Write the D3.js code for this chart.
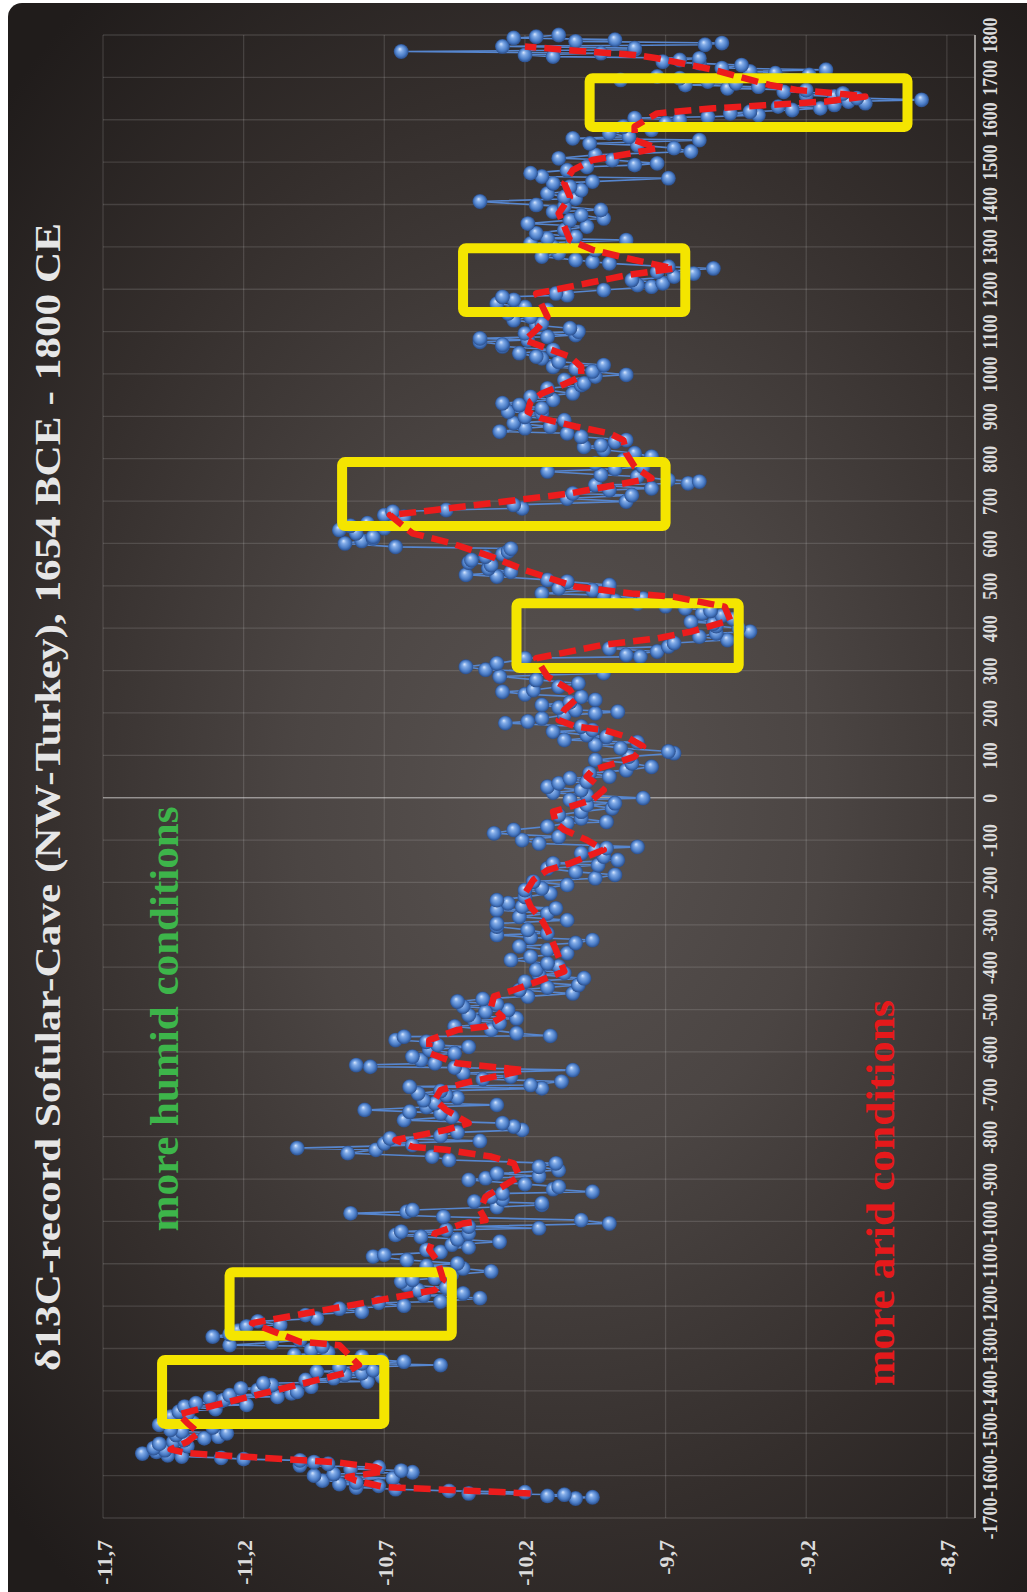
<!DOCTYPE html>
<html>
<head>
<meta charset="utf-8">
<script src="https://cdn.jsdelivr.net/npm/d3@7"></script>
<style>
  html, body { margin: 0; padding: 0; background: #ffffff; }
  svg { display: block; }
</style>
</head>
<body>
<svg id="chart" width="1027" height="1592"></svg>
<script>
// ---- Axis tick labels ----
const yearLabels = [-1700,-1600,-1500,-1400,-1300,-1200,-1100,-1000,-900,-800,-700,-600,-500,-400,-300,-200,-100,0,
                    100,200,300,400,500,600,700,800,900,1000,1100,1200,1300,1400,1500,1600,1700,1800];
const valueTicks = [-11.7,-11.2,-10.7,-10.2,-9.7,-9.2,-8.7];
const valueDomain = [-11.7, -8.6];
const yearDomain = [-1700, 1800];

// ---- δ13C record, [year, ‰ VPDB] ----
const record = [
[-1654,-10.02],[-1651,-9.96],[-1648,-10.12],[-1645,-10.06],[-1642,-10.40],[-1639,-10.20],[-1636,-10.47],[-1632,-10.66],
[-1628,-10.80],[-1624,-10.72],[-1620,-10.86],[-1616,-10.80],[-1612,-10.92],[-1606,-10.67],[-1600,-10.95],[-1596,-10.88],
[-1592,-10.60],[-1588,-10.64],[-1584,-10.82],[-1580,-10.72],[-1576,-11.00],[-1572,-10.90],[-1568,-10.95],[-1564,-11.00],
[-1561,-11.20],[-1558,-11.28],[-1555,-11.42],[-1552,-11.47],[-1548,-11.56],[-1544,-11.51],[-1540,-11.48],[-1535,-11.52],
[-1530,-11.40],[-1525,-11.50],[-1520,-11.45],[-1516,-11.41],[-1512,-11.34],[-1508,-11.29],[-1504,-11.44],[-1500,-11.26],
[-1496,-11.42],[-1492,-11.46],[-1486,-11.31],[-1480,-11.50],[-1475,-11.38],[-1468,-11.47],[-1461,-11.46],[-1455,-11.40],
[-1449,-11.43],[-1443,-11.30],[-1437,-11.41],[-1433,-11.19],[-1429,-11.37],[-1424,-11.28],[-1421,-11.27],[-1417,-11.32],
[-1414,-11.08],[-1410,-11.25],[-1406,-11.03],[-1402,-11.01],[-1398,-11.15],[-1394,-11.21],[-1390,-10.96],[-1386,-11.10],
[-1382,-11.13],[-1378,-10.76],[-1374,-10.98],[-1370,-10.88],[-1366,-10.71],[-1362,-10.84],[-1358,-10.78],[-1354,-10.94],
[-1351,-10.74],[-1345,-10.86],[-1339,-10.50],[-1335,-10.78],[-1331,-10.63],[-1327,-10.71],[-1319,-10.78],[-1315,-11.02],
[-1309,-10.90],[-1303,-10.96],[-1295,-10.92],[-1292,-11.25],[-1286,-11.10],[-1280,-11.00],[-1272,-11.31],[-1266,-11.25],
[-1258,-11.22],[-1248,-11.19],[-1244,-11.07],[-1236,-11.15],[-1229,-10.94],[-1221,-10.98],[-1213,-10.78],[-1206,-10.86],
[-1199,-10.63],[-1192,-10.72],[-1189,-10.50],[-1181,-10.36],[-1175,-10.56],[-1170,-10.42],[-1162,-10.58],[-1156,-10.48],
[-1150,-10.62],[-1142,-10.64],[-1138,-10.60],[-1134,-10.52],[-1126,-10.46],[-1118,-10.32],[-1111,-10.42],[-1105,-10.55],
[-1099,-10.44],[-1091,-10.62],[-1083,-10.74],[-1079,-10.70],[-1072,-10.50],[-1067,-10.55],[-1061,-10.40],[-1055,-10.46],
[-1048,-10.29],[-1042,-10.44],[-1036,-10.57],[-1032,-10.66],[-1028,-10.40],[-1024,-10.64],[-1020,-10.48],[-1016,-10.15],
[-1012,-10.40],[-1005,-9.90],[-997,-10.00],[-989,-10.49],[-981,-10.82],[-977,-10.62],[-973,-10.60],[-966,-10.30],
[-961,-10.14],[-957,-10.14],[-953,-10.38],[-948,-10.28],[-942,-10.32],[-934,-10.28],[-930,-9.96],[-924,-10.10],
[-918,-10.08],[-912,-10.20],[-902,-10.40],[-898,-10.34],[-893,-10.15],[-887,-10.30],[-879,-10.08],[-871,-10.15],
[-863,-10.09],[-855,-10.47],[-847,-10.53],[-839,-10.83],[-831,-10.73],[-827,-11.01],[-820,-10.60],[-816,-10.70],
[-810,-10.36],[-804,-10.68],[-798,-10.50],[-790,-10.44],[-784,-10.21],[-776,-10.24],[-768,-10.28],[-761,-10.63],
[-753,-10.46],[-745,-10.50],[-741,-10.61],[-737,-10.77],[-730,-10.55],[-725,-10.30],[-721,-10.52],[-714,-10.56],
[-708,-10.44],[-702,-10.48],[-698,-10.58],[-692,-10.50],[-686,-10.14],[-682,-10.61],[-678,-10.18],[-670,-10.07],
[-664,-10.35],[-658,-10.25],[-650,-10.42],[-643,-10.03],[-637,-10.45],[-635,-10.75],[-631,-10.80],[-627,-10.52],
[-619,-10.57],[-611,-10.60],[-603,-10.45],[-595,-10.54],[-588,-10.40],[-584,-10.51],[-576,-10.55],[-572,-10.66],
[-564,-10.63],[-562,-10.11],[-556,-10.23],[-548,-10.32],[-540,-10.45],[-532,-10.29],[-526,-10.38],[-521,-10.23],
[-513,-10.40],[-505,-10.34],[-501,-10.26],[-493,-10.42],[-487,-10.30],[-481,-10.44],[-475,-10.35],[-469,-10.19],
[-462,-10.03],[-454,-10.22],[-448,-10.12],[-442,-10.01],[-434,-10.20],[-426,-9.99],[-418,-10.15],[-414,-10.06],
[-406,-10.16],[-398,-10.08],[-391,-10.12],[-383,-10.25],[-375,-10.18],[-367,-10.05],[-359,-10.12],[-351,-10.22],
[-343,-10.02],[-336,-9.96],[-330,-10.18],[-324,-10.30],[-320,-10.12],[-312,-10.19],[-304,-10.30],[-297,-10.30],
[-289,-10.05],[-281,-10.22],[-273,-10.12],[-265,-10.30],[-261,-10.09],[-257,-10.21],[-249,-10.26],[-242,-10.30],
[-234,-10.20],[-226,-10.11],[-218,-10.20],[-214,-10.14],[-206,-10.05],[-198,-10.17],[-190,-9.95],[-182,-9.88],
[-175,-10.02],[-167,-10.12],[-159,-9.94],[-155,-10.10],[-147,-9.87],[-139,-9.92],[-131,-10.00],[-123,-9.95],
[-119,-9.91],[-116,-9.80],[-108,-10.15],[-100,-10.21],[-92,-10.08],[-84,-10.31],[-76,-10.24],[-68,-10.12],
[-60,-10.05],[-57,-9.91],[-49,-10.00],[-41,-10.08],[-33,-10.00],[-25,-9.89],[-17,-9.98],[-13,-9.88],
[-5,-10.04],[-1,-9.78],[6,-9.98],[12,-10.10],[18,-10.00],[26,-10.12],[34,-10.08],[38,-9.98],
[46,-10.04],[50,-9.90],[58,-9.97],[65,-9.84],[73,-9.75],[81,-9.82],[89,-9.95],[97,-9.83],
[105,-9.67],[109,-9.69],[117,-9.86],[125,-9.95],[131,-9.80],[136,-10.06],[144,-9.91],[148,-9.98],
[156,-10.10],[160,-9.96],[168,-10.00],[176,-10.27],[180,-10.19],[187,-10.14],[195,-10.06],[199,-9.95],
[203,-9.87],[207,-10.02],[213,-10.08],[219,-10.14],[225,-10.04],[231,-9.95],[238,-10.00],[244,-10.20],
[250,-10.28],[254,-10.17],[262,-10.08],[270,-10.01],[278,-10.16],[286,-10.29],[294,-9.92],[302,-10.34],
[309,-10.41],[317,-10.30],[325,-10.22],[329,-10.20],[333,-9.79],[337,-9.84],[345,-9.73],[352,-9.90],
[357,-9.69],[365,-9.67],[372,-9.48],[380,-9.58],[388,-9.52],[392,-9.40],[400,-9.44],[405,-9.52],
[411,-9.53],[415,-9.61],[422,-9.46],[430,-9.50],[435,-9.57],[441,-9.54],[447,-9.63],[452,-9.70],
[458,-9.80],[465,-9.88],[470,-9.78],[478,-9.92],[482,-10.14],[490,-9.96],[494,-10.08],[502,-9.90],
[510,-10.05],[514,-10.12],[522,-10.30],[526,-10.41],[533,-10.25],[541,-10.33],[549,-10.32],[555,-10.40],
[561,-10.39],[569,-10.34],[575,-10.28],[581,-10.26],[588,-10.25],[592,-10.66],[600,-10.84],[606,-10.78],
[612,-10.74],[616,-10.74],[624,-10.80],[632,-10.86],[636,-10.70],[642,-10.82],[648,-10.76],[655,-10.64],
[663,-10.63],[667,-10.70],[675,-10.67],[679,-10.48],[683,-10.21],[691,-10.24],[699,-9.84],[706,-10.05],
[714,-9.82],[718,-10.03],[726,-9.90],[730,-9.75],[738,-9.95],[742,-9.62],[746,-9.58],[750,-9.69],
[758,-9.80],[762,-9.93],[770,-10.12],[776,-9.88],[781,-9.78],[789,-9.95],[797,-9.85],[805,-9.75],
[813,-9.81],[821,-9.92],[828,-9.99],[832,-9.93],[840,-9.88],[844,-9.84],[852,-10.00],[860,-10.05],
[864,-10.29],[872,-10.20],[876,-10.11],[884,-10.24],[891,-10.06],[899,-10.20],[907,-10.14],[911,-10.26],
[919,-10.14],[927,-10.22],[931,-10.28],[939,-10.10],[946,-10.18],[954,-10.03],[962,-10.12],[966,-10.12],
[974,-10.00],[978,-9.99],[986,-10.06],[994,-9.95],[998,-9.84],[1006,-9.96],[1013,-10.02],[1017,-10.10],
[1021,-9.92],[1029,-10.08],[1037,-10.14],[1041,-10.16],[1049,-10.22],[1057,-10.10],[1065,-10.28],[1069,-10.28],
[1076,-10.36],[1080,-10.19],[1084,-10.36],[1088,-10.12],[1092,-10.02],[1096,-10.20],[1100,-10.01],[1108,-10.04],
[1115,-10.16],[1119,-10.14],[1127,-10.24],[1135,-10.18],[1143,-10.26],[1151,-10.12],[1158,-10.20],[1166,-10.30],
[1175,-10.24],[1182,-10.28],[1186,-10.05],[1190,-10.09],[1198,-9.92],[1206,-9.75],[1210,-9.80],[1214,-9.71],
[1222,-9.82],[1230,-9.67],[1237,-9.60],[1241,-9.73],[1249,-9.53],[1253,-9.69],[1261,-9.90],[1265,-9.96],
[1269,-10.02],[1277,-10.14],[1285,-10.08],[1293,-9.95],[1300,-10.10],[1308,-10.18],[1312,-10.03],[1316,-9.84],
[1320,-10.12],[1324,-10.02],[1332,-10.16],[1340,-10.06],[1348,-9.98],[1355,-10.19],[1363,-10.04],[1367,-9.92],
[1375,-10.00],[1383,-10.10],[1387,-9.93],[1395,-10.06],[1399,-10.16],[1407,-10.36],[1414,-10.02],[1418,-10.06],
[1426,-10.12],[1434,-10.00],[1442,-10.04],[1450,-10.10],[1454,-9.96],[1462,-9.69],[1466,-10.14],[1474,-10.18],
[1481,-10.05],[1489,-9.98],[1493,-9.81],[1497,-9.73],[1505,-9.89],[1509,-10.08],[1517,-9.95],[1525,-9.61],
[1533,-9.67],[1540,-9.80],[1544,-9.97],[1552,-9.58],[1556,-10.03],[1560,-9.83],[1568,-9.90],[1576,-9.75],
[1584,-9.85],[1592,-9.70],[1600,-9.65],[1604,-9.81],[1607,-9.55],[1611,-9.37],[1615,-9.47],[1619,-9.40],
[1623,-9.25],[1627,-9.15],[1631,-9.30],[1635,-9.10],[1639,-8.99],[1643,-9.05],[1647,-8.79],[1651,-9.02],
[1655,-9.10],[1658,-9.20],[1662,-9.07],[1666,-9.28],[1670,-9.20],[1674,-9.48],[1678,-9.37],[1682,-9.63],
[1686,-9.45],[1690,-9.55],[1694,-9.86],[1698,-9.65],[1702,-9.73],[1706,-9.19],[1710,-9.31],[1714,-9.40],
[1718,-9.13],[1722,-9.50],[1729,-9.43],[1733,-9.58],[1737,-9.71],[1741,-9.65],[1745,-9.58],[1749,-10.10],
[1753,-10.20],[1757,-9.93],[1761,-10.64],[1765,-9.81],[1769,-9.81],[1773,-10.28],[1777,-9.56],[1781,-9.50],
[1785,-10.02],[1789,-9.88],[1793,-10.24],[1796,-10.16],[1800,-10.08]
];

// ---- Smoothed trend (red dashed), [year, value] ----
const trend = [
[-1642,-10.18],[-1627,-10.70],[-1612,-10.80],[-1603,-10.83],[-1590,-10.70],[-1580,-10.73],[-1568,-10.88],[-1547,-11.40],
[-1538,-11.46],[-1520,-11.40],[-1499,-11.36],[-1476,-11.40],[-1455,-11.43],[-1358,-10.84],[-1339,-10.79],[-1292,-10.86],
[-1284,-11.00],[-1240,-11.17],[-1162,-10.52],[-1138,-10.49],[-1095,-10.51],[-1067,-10.54],[-1028,-10.52],[-1005,-10.42],
[-997,-10.34],[-973,-10.36],[-942,-10.34],[-918,-10.28],[-894,-10.22],[-863,-10.24],[-847,-10.32],[-831,-10.48],
[-824,-10.60],[-808,-10.66],[-800,-10.60],[-784,-10.48],[-768,-10.40],[-737,-10.48],[-713,-10.52],[-690,-10.50],
[-674,-10.42],[-643,-10.20],[-635,-10.32],[-627,-10.44],[-603,-10.54],[-572,-10.54],[-548,-10.44],[-540,-10.34],
[-517,-10.28],[-493,-10.32],[-469,-10.31],[-454,-10.24],[-430,-10.14],[-410,-10.06],[-359,-10.09],[-312,-10.12],
[-289,-10.14],[-257,-10.18],[-226,-10.20],[-194,-10.17],[-171,-10.12],[-155,-10.04],[-139,-9.98],[-123,-9.92],
[-100,-9.98],[-76,-10.06],[-60,-10.09],[-33,-10.10],[-21,-10.04],[-5,-9.96],[18,-9.92],[50,-9.98],
[65,-9.96],[81,-9.88],[97,-9.81],[121,-9.78],[144,-9.84],[160,-9.92],[168,-10.02],[183,-10.08],
[207,-10.06],[231,-10.02],[254,-10.04],[286,-10.12],[329,-10.16],[361,-9.92],[376,-9.73],[392,-9.61],
[419,-9.47],[451,-9.49],[474,-9.67],[482,-9.82],[498,-10.02],[537,-10.20],[569,-10.32],[600,-10.46],
[624,-10.60],[667,-10.68],[679,-10.52],[695,-10.32],[718,-10.04],[754,-9.75],[781,-9.81],[813,-9.84],
[844,-9.85],[860,-9.90],[876,-10.02],[895,-10.14],[911,-10.19],[935,-10.18],[954,-10.14],[970,-10.08],
[994,-10.00],[1017,-10.00],[1041,-10.04],[1065,-10.14],[1080,-10.20],[1104,-10.16],[1135,-10.12],[1190,-10.16],
[1214,-9.98],[1234,-9.83],[1249,-9.67],[1269,-9.81],[1293,-9.96],[1316,-10.04],[1348,-10.06],[1379,-10.08],
[1418,-10.04],[1450,-10.06],[1481,-10.03],[1505,-9.96],[1521,-9.82],[1533,-9.73],[1552,-9.81],[1584,-9.81],
[1615,-9.73],[1627,-9.53],[1635,-9.33],[1643,-9.13],[1655,-8.99],[1662,-9.09],[1670,-9.23],[1682,-9.33],
[1718,-9.53],[1745,-9.73],[1753,-9.81],[1765,-10.06],[1773,-10.20]
];

// ---- Highlighted abrupt shifts: [year from, year to, value from, value to] ----
const highlights = [
  [-1478, -1327, -11.49, -10.70],
  [-1270, -1120, -11.25, -10.46],
  [306, 459, -10.23, -9.44],
  [641, 792, -10.85, -9.70],
  [1146, 1297, -10.42, -9.63],
  [1583, 1698, -9.97, -8.84]
];

const titleText = "δ13C-record Sofular-Cave (NW-Turkey), 1654 BCE - 1800 CE";
const humidText = "more humid conditions";
const aridText = "more arid conditions";

// ---- Layout ----
const W = 1027, H = 1592;
const plot = { left: 103, right: 975, top: 35, bottom: 1518 };
const serif = "'Liberation Serif', 'Times New Roman', serif";

const svg = d3.select("#chart");
const defs = svg.append("defs");

// Background vignette
const bg = defs.append("radialGradient").attr("id", "bgGrad")
  .attr("gradientUnits", "userSpaceOnUse")
  .attr("cx", 560).attr("cy", 800).attr("r", 760)
  .attr("gradientTransform", "translate(560,800) scale(1,1.35) translate(-560,-800)");
[[0, "#595351"], [0.35, "#4b4543"], [0.7, "#342e2c"], [1, "#201c1b"]]
  .forEach(([o, c]) => bg.append("stop").attr("offset", o).attr("stop-color", c));

// Sphere shading for markers
const ball = defs.append("radialGradient").attr("id", "ballGrad")
  .attr("cx", 0.5).attr("cy", 0.5).attr("r", 0.5).attr("fx", 0.4).attr("fy", 0.32);
[[0, "#d9e7fc"], [0.3, "#82ace8"], [0.72, "#4a7cc6"], [1, "#2a4e8c"]]
  .forEach(([o, c]) => ball.append("stop").attr("offset", o).attr("stop-color", c));

svg.append("rect").attr("width", W).attr("height", H).attr("fill", "#ffffff");
svg.append("rect").attr("x", 8).attr("y", 3).attr("width", W + 20).attr("height", H + 20)
  .attr("rx", 14).attr("fill", "url(#bgGrad)");

// Scales: values run left → right, years run bottom → top
const x = d3.scaleLinear().domain(valueDomain).range([plot.left, plot.right]);
const y = d3.scaleLinear().domain(yearDomain).range([plot.bottom, plot.top]);

// Gridlines
const grid = svg.append("g").attr("stroke", "rgba(255,255,255,0.13)").attr("stroke-width", 1.3);
grid.selectAll("line.h").data(yearLabels).join("line").attr("class", "h")
  .attr("x1", plot.left).attr("x2", plot.right)
  .attr("y1", d => y(d)).attr("y2", d => y(d));
grid.selectAll("line.v").data(valueTicks).join("line").attr("class", "v")
  .attr("x1", d => x(d)).attr("x2", d => x(d))
  .attr("y1", plot.top).attr("y2", plot.bottom);

// Year-zero line and the year axis line
svg.append("line").attr("x1", plot.left).attr("x2", plot.right)
  .attr("y1", y(0)).attr("y2", y(0))
  .attr("stroke", "rgba(255,255,255,0.38)").attr("stroke-width", 1.6);
svg.append("line").attr("x1", x(valueDomain[1])).attr("x2", x(valueDomain[1]))
  .attr("y1", plot.top).attr("y2", plot.bottom)
  .attr("stroke", "#a9a5a2").attr("stroke-width", 1.8);

// Record: connecting line, then spheres
const line = d3.line().x(d => x(d[1])).y(d => y(d[0]));
svg.append("path").datum(record).attr("d", line)
  .attr("fill", "none").attr("stroke", "#5686cf").attr("stroke-width", 1.6);
svg.append("g").selectAll("circle").data(record).join("circle")
  .attr("cx", d => x(d[1])).attr("cy", d => y(d[0])).attr("r", 7.4)
  .attr("fill", "url(#ballGrad)");

// Highlight boxes
svg.append("g").selectAll("rect").data(highlights).join("rect")
  .attr("x", d => x(d[2])).attr("y", d => y(d[1]))
  .attr("width", d => x(d[3]) - x(d[2]))
  .attr("height", d => y(d[0]) - y(d[1]))
  .attr("rx", 3)
  .attr("fill", "none").attr("stroke", "#f4e500").attr("stroke-width", 10);

// Trend
svg.append("path").datum(trend).attr("d", line)
  .attr("fill", "none").attr("stroke", "#ec1c1c").attr("stroke-width", 6.5)
  .attr("stroke-dasharray", "17,8").attr("stroke-linejoin", "round");

// Value axis (bottom), labels rotated
const xAxis = d3.axisBottom(x).tickValues(valueTicks).tickSize(0)
  .tickFormat(d => String(d).replace(".", ","));
svg.append("g").attr("transform", `translate(0,${plot.bottom})`).call(xAxis)
  .call(g => g.select(".domain").remove())
  .call(g => g.selectAll("text")
    .attr("transform", "rotate(-90)")
    .attr("x", -22).attr("y", 8).attr("dy", 0)
    .attr("text-anchor", "end")
    .attr("fill", "#dcdcdc")
    .style("font-family", serif).style("font-size", "22px").style("font-weight", "bold"));

// Year axis (right), labels rotated and condensed
const yAxis = d3.axisRight(y).tickValues(yearLabels).tickSize(0).tickFormat(d => String(d));
svg.append("g").attr("transform", `translate(${plot.right},0)`).call(yAxis)
  .call(g => g.select(".domain").remove())
  .call(g => g.selectAll("text")
    .attr("transform", "rotate(-90) scale(0.9,1)")
    .attr("x", 0).attr("y", 22).attr("dy", 0)
    .attr("text-anchor", "middle")
    .attr("fill", "#dcdcdc")
    .style("font-family", serif).style("font-size", "20px").style("font-weight", "bold"));

// Rotated text helper
function vText(str, cx, cy, size, color, len) {
  svg.append("text")
    .attr("transform", `translate(${cx},${cy}) rotate(-90)`)
    .attr("text-anchor", "middle")
    .attr("textLength", len).attr("lengthAdjust", "spacingAndGlyphs")
    .attr("fill", color)
    .style("font-family", serif).style("font-size", size + "px").style("font-weight", "bold")
    .text(str);
}
vText(titleText, 60, 797, 35, "#e6e6e6", 1148);
vText(humidText, 178, 1019, 40, "#3db54a", 425);
vText(aridText, 894, 1193, 40, "#e5191b", 386);
</script>
</body>
</html>
